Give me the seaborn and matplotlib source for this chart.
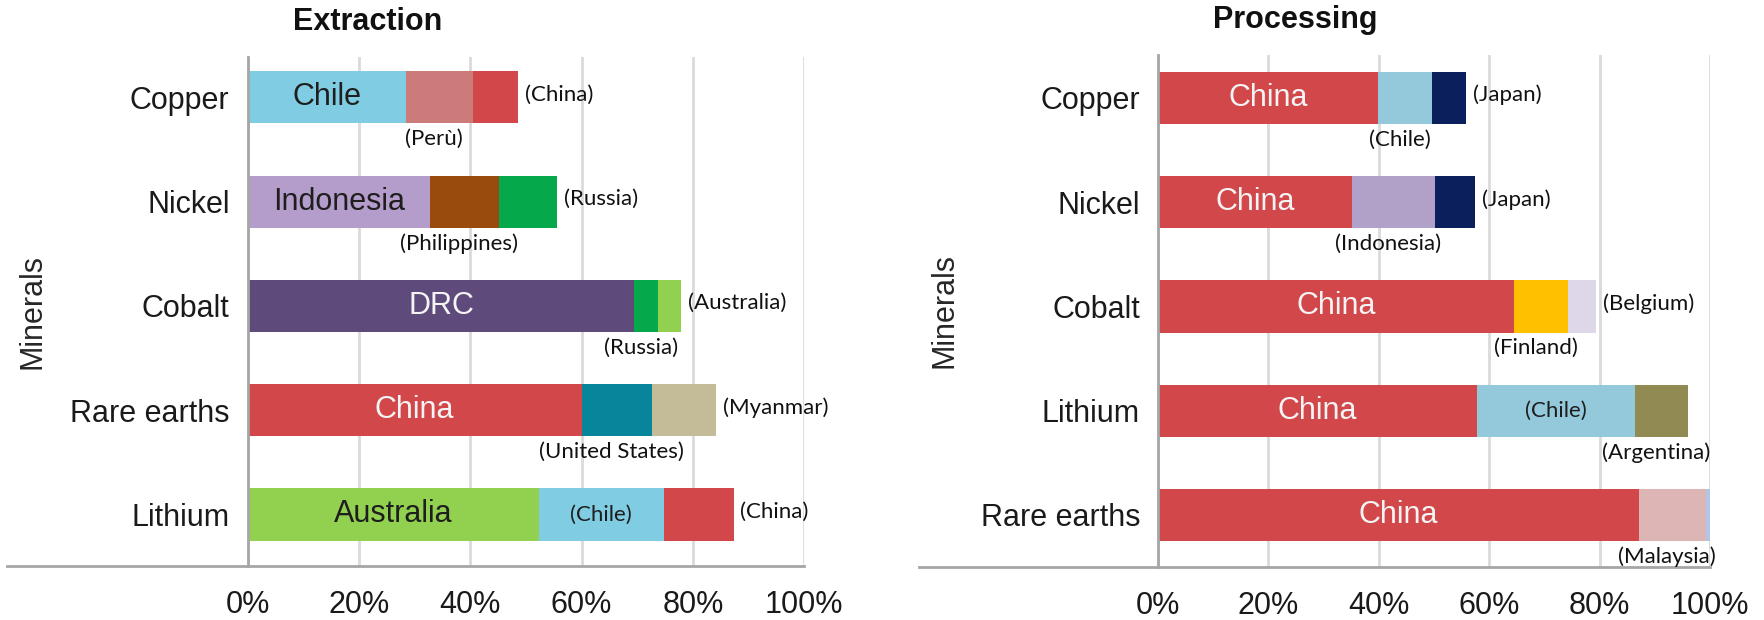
import numpy as np
import pandas as pd
import matplotlib
matplotlib.use("Agg")
import matplotlib.pyplot as plt
import seaborn as sns

# ---- data: share of global output held by the top three countries (%) ----
EXT_MINERALS = ["Copper", "Nickel", "Cobalt", "Rare earths", "Lithium"]
EXT_FIRST = ["Chile", "Indonesia", "DRC", "China", "Australia"]
EXT_FIRST_PCT = [28.4, 32.8, 69.5, 60.0, 52.3]
EXT_SECOND = ["(Perù)", "(Philippines)", "(Russia)", "(United States)", "(Chile)"]
EXT_SECOND_PCT = [12.0, 12.3, 4.3, 12.6, 22.5]
EXT_THIRD = ["(China)", "(Russia)", "(Australia)", "(Myanmar)", "(China)"]
EXT_THIRD_PCT = [8.1, 10.5, 4.1, 11.5, 12.5]

PROC_MINERALS = ["Copper", "Nickel", "Cobalt", "Lithium", "Rare earths"]
PROC_FIRST = ["China", "China", "China", "China", "China"]
PROC_FIRST_PCT = [39.9, 35.2, 64.5, 57.8, 87.2]
PROC_SECOND = ["(Chile)", "(Indonesia)", "(Finland)", "(Chile)", "(Malaysia)"]
PROC_SECOND_PCT = [9.7, 14.9, 9.8, 28.6, 12.1]
PROC_THIRD = ["(Japan)", "(Japan)", "(Belgium)", "(Argentina)", ""]
PROC_THIRD_PCT = [6.2, 7.4, 5.1, 9.7, 0.7]

XTICKS = [0, 20, 40, 60, 80, 100]
XTICK_LABELS = ["0%", "20%", "40%", "60%", "80%", "100%"]

# ---- styling ----
EXT_COLORS = [
    ["#80cde3", "#cc7b7b", "#d1474a"],
    ["#b59dcb", "#994a0d", "#05a94c"],
    ["#5e4a7b", "#05a94c", "#92d050"],
    ["#d1474a", "#08849b", "#c4bc98"],
    ["#92d050", "#80cde3", "#d1474a"],
]
PROC_COLORS = [
    ["#d1474a", "#93c9da", "#0b1f5c"],
    ["#d1474a", "#b1a1c8", "#0b1f5c"],
    ["#d1474a", "#ffc000", "#ddd7e9"],
    ["#d1474a", "#93c9da", "#918a53"],
    ["#d1474a", "#ddb5b5", "#b3c5e6"],
]
# where each segment's label goes: inside (large), inside (small), below, at the end
EXT_PLACE = [["in", "below", "end"]] * 4 + [["in", "inner", "end"]]
PROC_PLACE = [["in", "below", "end"]] * 3 + [["in", "inner", "below"], ["in", "below", None]]

GRID = "#dadada"
SPINE = "#a6a6a6"
NOTE_FONT = ["Lato", "Liberation Sans", "DejaVu Sans"]
NOTE_SIZE = 16

sns.set_style("white")
plt.rcParams["font.family"] = ["Liberation Sans", "DejaVu Sans"]


def luminance(hex_color):
    r, g, b = matplotlib.colors.to_rgb(hex_color)
    return 0.299 * r + 0.587 * g + 0.114 * b


def draw_panel(ax, minerals, names, shares, colors, places, title, title_x, ylim):
    shares = np.array(shares, dtype=float)
    ends = shares.cumsum(axis=0)
    starts = ends - shares

    # stacked bars: draw the cumulative totals from the outermost layer inward
    for layer in reversed(range(shares.shape[0])):
        frame = pd.DataFrame({"mineral": minerals, "share": ends[layer]})
        sns.barplot(
            data=frame, x="share", y="mineral", hue="mineral",
            order=minerals, hue_order=minerals,
            palette=[c[layer] for c in colors],
            orient="h", width=0.5, saturation=1, linewidth=0,
            legend=False, ax=ax,
        )

    for i in range(len(minerals)):
        for layer in range(shares.shape[0]):
            mode = places[i][layer]
            text = names[layer][i]
            if mode is None or not text:
                continue
            x0, x1 = starts[layer][i], ends[layer][i]
            mid = (x0 + x1) / 2
            if mode == "in":
                col = "#1e1e1e" if luminance(colors[i][layer]) > 0.5 else "#f4f4f4"
                ax.text(mid, i, text, ha="center", va="center", fontsize=22, color=col)
            elif mode == "inner":
                ax.text(mid, i, text, ha="center", va="center", fontsize=NOTE_SIZE,
                        color="#1e1e1e", family=NOTE_FONT)
            elif mode == "below":
                ax.annotate(text, xy=(mid - 1.0, i + 0.25), xytext=(0, -4),
                            textcoords="offset points", ha="center", va="top",
                            fontsize=NOTE_SIZE, color="#111111", family=NOTE_FONT,
                            annotation_clip=False)
            elif mode == "end":
                ax.annotate(text, xy=(x1, i), xytext=(5, 2),
                            textcoords="offset points", ha="left", va="center",
                            fontsize=NOTE_SIZE, color="#111111", family=NOTE_FONT,
                            annotation_clip=False)

    ax.set_xlim(0, 100)
    ax.set_ylim(*ylim)
    ax.set_xticks(XTICKS)
    ax.set_xticklabels(XTICK_LABELS)
    ax.set_xlabel("")
    ax.set_ylabel("Minerals", fontsize=22)
    ax.yaxis.set_label_coords(-0.36, 0.5)
    ax.tick_params(axis="x", length=0, pad=17, labelsize=22, colors="#1a1a1a")
    ax.tick_params(axis="y", length=0, pad=13, labelsize=22, colors="#1a1a1a")
    ax.set_axisbelow(True)
    ax.grid(axis="x", color=GRID, linewidth=2)
    ax.grid(axis="y", visible=False)
    for side in ("top", "right"):
        ax.spines[side].set_visible(False)
    for side in ("left", "bottom"):
        ax.spines[side].set_color(SPINE)
        ax.spines[side].set_linewidth(2)
    ax.spines["bottom"].set_bounds(-43.3, 100)
    ax.set_title(title, x=title_x, y=1.069, pad=0, va="center",
                 fontsize=22, fontweight="bold", color="#111111")


fig = plt.figure(figsize=(17.64, 6.2), dpi=100)
ax_ext = fig.add_axes([0.1404, 0.0871, 0.3155, 0.8210])
ax_proc = fig.add_axes([0.6565, 0.0855, 0.3129, 0.8258])

draw_panel(
    ax_ext, EXT_MINERALS,
    [EXT_FIRST, EXT_SECOND, EXT_THIRD],
    [EXT_FIRST_PCT, EXT_SECOND_PCT, EXT_THIRD_PCT],
    EXT_COLORS, EXT_PLACE, "Extraction", 0.216, (4.494, -0.388),
)
draw_panel(
    ax_proc, PROC_MINERALS,
    [PROC_FIRST, PROC_SECOND, PROC_THIRD],
    [PROC_FIRST_PCT, PROC_SECOND_PCT, PROC_THIRD_PCT],
    PROC_COLORS, PROC_PLACE, "Processing", 0.248, (4.499, -0.412),
)

fig.savefig("out.png", dpi=100, facecolor="white")
